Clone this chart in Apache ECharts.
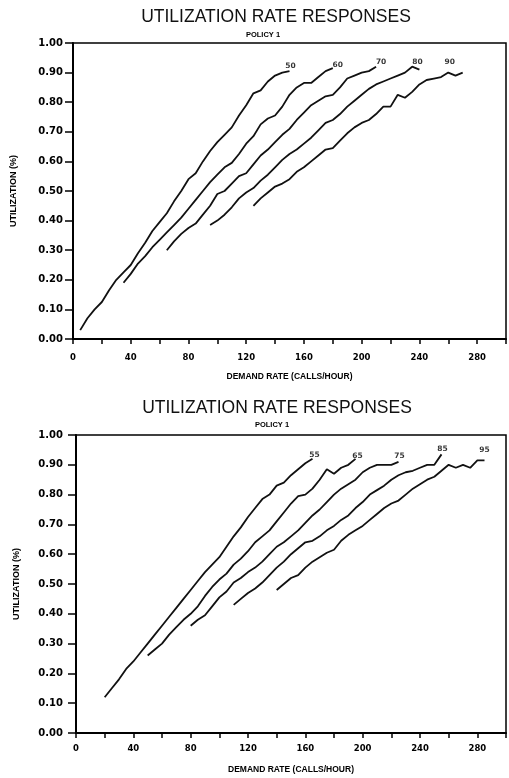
<!DOCTYPE html>
<html>
<head>
<meta charset="utf-8">
<title>Utilization rate responses</title>
<script src="https://cdn.jsdelivr.net/npm/echarts@6/dist/echarts.min.js"></script>
<style>
  html, body { margin: 0; padding: 0; background: #fff; }
  #main { width: 509px; height: 778px; }
</style>
</head>
<body>
<div id="main"></div>
<script>
// Top panel: curves labelled 50..90
const topNames = ["50", "60", "70", "80", "90"];
const top50x = [5, 10, 15, 20, 25, 30, 35, 40, 45, 50, 55, 60, 65, 70, 75, 80, 85, 90, 95, 100, 105, 110, 115, 120, 125, 130, 135, 140, 145, 150];
const top50y = [0.03, 0.07, 0.10, 0.125, 0.165, 0.20, 0.225, 0.25, 0.29, 0.325, 0.365, 0.395, 0.425, 0.465, 0.50, 0.54, 0.56, 0.60, 0.635, 0.665, 0.69, 0.715, 0.755, 0.79, 0.83, 0.84, 0.87, 0.89, 0.90, 0.905];
const top60x = [35, 40, 45, 50, 55, 60, 65, 70, 75, 80, 85, 90, 95, 100, 105, 110, 115, 120, 125, 130, 135, 140, 145, 150, 155, 160, 165, 170, 175, 180];
const top60y = [0.19, 0.22, 0.255, 0.28, 0.31, 0.335, 0.36, 0.385, 0.41, 0.44, 0.47, 0.50, 0.53, 0.555, 0.58, 0.595, 0.625, 0.66, 0.685, 0.725, 0.745, 0.755, 0.785, 0.825, 0.85, 0.865, 0.865, 0.885, 0.905, 0.915];
const top70x = [65, 70, 75, 80, 85, 90, 95, 100, 105, 110, 115, 120, 125, 130, 135, 140, 145, 150, 155, 160, 165, 170, 175, 180, 185, 190, 195, 200, 205, 210];
const top70y = [0.30, 0.33, 0.355, 0.375, 0.39, 0.42, 0.45, 0.49, 0.50, 0.525, 0.55, 0.56, 0.59, 0.62, 0.64, 0.665, 0.69, 0.71, 0.74, 0.765, 0.79, 0.805, 0.82, 0.825, 0.85, 0.88, 0.89, 0.90, 0.905, 0.92];
const top80x = [95, 100, 105, 110, 115, 120, 125, 130, 135, 140, 145, 150, 155, 160, 165, 170, 175, 180, 185, 190, 195, 200, 205, 210, 215, 220, 225, 230, 235, 240];
const top80y = [0.385, 0.40, 0.42, 0.445, 0.475, 0.495, 0.51, 0.535, 0.555, 0.58, 0.605, 0.625, 0.64, 0.66, 0.68, 0.705, 0.73, 0.74, 0.76, 0.785, 0.805, 0.825, 0.845, 0.86, 0.87, 0.88, 0.89, 0.90, 0.92, 0.91];
const top90x = [125, 130, 135, 140, 145, 150, 155, 160, 165, 170, 175, 180, 185, 190, 195, 200, 205, 210, 215, 220, 225, 230, 235, 240, 245, 250, 255, 260, 265, 270];
const top90y = [0.45, 0.475, 0.495, 0.515, 0.525, 0.54, 0.565, 0.58, 0.60, 0.62, 0.64, 0.645, 0.67, 0.695, 0.715, 0.73, 0.74, 0.76, 0.785, 0.785, 0.825, 0.815, 0.835, 0.86, 0.875, 0.88, 0.885, 0.90, 0.89, 0.90];

// Bottom panel: curves labelled 55..95
const botNames = ["55", "65", "75", "85", "95"];
const bot55x = [20, 25, 30, 35, 40, 45, 50, 55, 60, 65, 70, 75, 80, 85, 90, 95, 100, 105, 110, 115, 120, 125, 130, 135, 140, 145, 150, 155, 160, 165];
const bot55y = [0.12, 0.15, 0.18, 0.215, 0.24, 0.27, 0.30, 0.33, 0.36, 0.39, 0.42, 0.45, 0.48, 0.51, 0.54, 0.565, 0.59, 0.625, 0.66, 0.69, 0.725, 0.755, 0.785, 0.80, 0.83, 0.84, 0.865, 0.885, 0.905, 0.92];
const bot65x = [50, 55, 60, 65, 70, 75, 80, 85, 90, 95, 100, 105, 110, 115, 120, 125, 130, 135, 140, 145, 150, 155, 160, 165, 170, 175, 180, 185, 190, 195];
const bot65y = [0.26, 0.28, 0.30, 0.33, 0.355, 0.38, 0.40, 0.425, 0.46, 0.49, 0.515, 0.535, 0.565, 0.585, 0.61, 0.64, 0.66, 0.68, 0.71, 0.74, 0.77, 0.795, 0.80, 0.82, 0.85, 0.885, 0.87, 0.89, 0.90, 0.92];
const bot75x = [80, 85, 90, 95, 100, 105, 110, 115, 120, 125, 130, 135, 140, 145, 150, 155, 160, 165, 170, 175, 180, 185, 190, 195, 200, 205, 210, 215, 220, 225];
const bot75y = [0.36, 0.38, 0.395, 0.425, 0.455, 0.475, 0.505, 0.52, 0.54, 0.555, 0.575, 0.60, 0.625, 0.64, 0.66, 0.68, 0.705, 0.73, 0.75, 0.775, 0.80, 0.82, 0.835, 0.85, 0.875, 0.89, 0.90, 0.90, 0.90, 0.91];
const bot85x = [110, 115, 120, 125, 130, 135, 140, 145, 150, 155, 160, 165, 170, 175, 180, 185, 190, 195, 200, 205, 210, 215, 220, 225, 230, 235, 240, 245, 250, 255];
const bot85y = [0.43, 0.45, 0.47, 0.485, 0.505, 0.53, 0.555, 0.575, 0.60, 0.62, 0.64, 0.645, 0.66, 0.68, 0.695, 0.715, 0.73, 0.755, 0.775, 0.80, 0.815, 0.83, 0.85, 0.865, 0.875, 0.88, 0.89, 0.90, 0.90, 0.935];
const bot95x = [140, 145, 150, 155, 160, 165, 170, 175, 180, 185, 190, 195, 200, 205, 210, 215, 220, 225, 230, 235, 240, 245, 250, 255, 260, 265, 270, 275, 280, 285];
const bot95y = [0.48, 0.50, 0.52, 0.53, 0.555, 0.575, 0.59, 0.605, 0.615, 0.645, 0.665, 0.68, 0.695, 0.715, 0.735, 0.755, 0.77, 0.78, 0.80, 0.82, 0.835, 0.85, 0.86, 0.88, 0.90, 0.89, 0.90, 0.89, 0.915, 0.915];

const topCurves = [[top50x, top50y], [top60x, top60y], [top70x, top70y], [top80x, top80y], [top90x, top90y]];
const botCurves = [[bot55x, bot55y], [bot65x, bot65y], [bot75x, bot75y], [bot85x, bot85y], [bot95x, bot95y]];

// where each curve's label sits, relative to its last point (px)
const topLabelOffsets = [[1, -5], [5, -3], [5, -5], [-2, -8], [-13, -11]];
const botLabelOffsets = [[2, -4], [2, -3], [1, -6], [1, -5], [0, -10]];

var myChart = echarts.init(document.getElementById("main"));

const boldFont = "DejaVu Sans";

function lineSeries(curves, names, idx) {
  return curves.map((c, i) => ({
    name: names[i],
    type: "line",
    xAxisIndex: idx,
    yAxisIndex: idx,
    data: c[0].map((x, j) => [x, c[1][j]]),
    showSymbol: false,
    symbol: "none",
    smooth: false,
    lineStyle: { color: "#111", width: 1.8 },
    z: 3,
  }));
}

function labelSeries(curves, names, offsets, idx) {
  return {
    type: "scatter",
    xAxisIndex: idx,
    yAxisIndex: idx,
    symbolSize: 1,
    itemStyle: { color: "rgba(0,0,0,0)" },
    silent: true,
    data: curves.map((c, i) => ({
      name: names[i],
      value: [c[0][c[0].length - 1], c[1][c[1].length - 1]],
      label: { offset: offsets[i] },
    })),
    label: {
      show: true,
      position: "inside",
      formatter: "{b}",
      color: "#000",
      fontFamily: boldFont,
      fontWeight: "bold",
      fontSize: 7.5,
    },
  };
}

function xAxis(idx, labelMargin, nameGap) {
  return {
    type: "value",
    gridIndex: idx,
    min: 0,
    max: 300,
    interval: 20,
    name: "DEMAND RATE (CALLS/HOUR)",
    nameLocation: "middle",
    nameGap: nameGap,
    nameTextStyle: { color: "#000", fontFamily: "Liberation Sans", fontWeight: "bold", fontSize: 8.5 },
    axisLine: { show: true, lineStyle: { color: "#000", width: 2 } },
    axisTick: { show: true, length: 5, lineStyle: { color: "#000", width: 1.5 } },
    axisLabel: {
      margin: labelMargin,
      color: "#000",
      fontFamily: boldFont,
      fontWeight: "bold",
      fontSize: 8.5,
      formatter: (v) => (v % 40 === 0 && v < 300 ? String(v) : ""),
    },
    splitLine: { show: false },
  };
}

function yAxis(idx, labelMargin) {
  return {
    type: "value",
    gridIndex: idx,
    min: 0,
    max: 1,
    interval: 0.1,
    name: "UTILIZATION (%)",
    nameLocation: "middle",
    nameGap: 55,
    nameRotate: 90,
    nameTextStyle: { color: "#000", fontFamily: "Liberation Sans", fontWeight: "bold", fontSize: 9 },
    axisLine: { show: true, lineStyle: { color: "#000", width: 2 } },
    axisTick: { show: true, length: 8, lineStyle: { color: "#000", width: 1.5 } },
    axisLabel: {
      margin: labelMargin,
      color: "#000",
      fontFamily: boldFont,
      fontWeight: "bold",
      fontSize: 10,
      formatter: (v) => v.toFixed(2),
    },
    splitLine: { show: false },
  };
}

const titleStyle = { color: "#111", fontFamily: "Liberation Sans", fontWeight: "normal", fontSize: 17.5 };
const subStyle = { color: "#000", fontFamily: "Liberation Sans", fontWeight: "bold", fontSize: 7.5 };

var option = {
  animation: false,
  backgroundColor: "#fff",
  title: [
    { text: "UTILIZATION RATE RESPONSES", left: 276, top: 8, textAlign: "center", padding: 0, textStyle: titleStyle },
    { text: "POLICY 1", left: 263, top: 30.5, textAlign: "center", padding: 0, textStyle: subStyle },
    { text: "UTILIZATION RATE RESPONSES", left: 277, top: 399, textAlign: "center", padding: 0, textStyle: titleStyle },
    { text: "POLICY 1", left: 272, top: 421, textAlign: "center", padding: 0, textStyle: subStyle },
  ],
  grid: [
    { left: 73, top: 43, width: 435, height: 296, show: true, borderColor: "#000", borderWidth: 1.5, backgroundColor: "transparent" },
    { left: 76, top: 435, width: 432, height: 298, show: true, borderColor: "#000", borderWidth: 1.5, backgroundColor: "transparent" },
  ],
  xAxis: [xAxis(0, 14, 33), xAxis(1, 11, 32)],
  yAxis: [yAxis(0, 10), yAxis(1, 13)],
  series: [
    ...lineSeries(topCurves, topNames, 0),
    ...lineSeries(botCurves, botNames, 1),
    labelSeries(topCurves, topNames, topLabelOffsets, 0),
    labelSeries(botCurves, botNames, botLabelOffsets, 1),
  ],
};

myChart.setOption(option);
</script>
</body>
</html>
